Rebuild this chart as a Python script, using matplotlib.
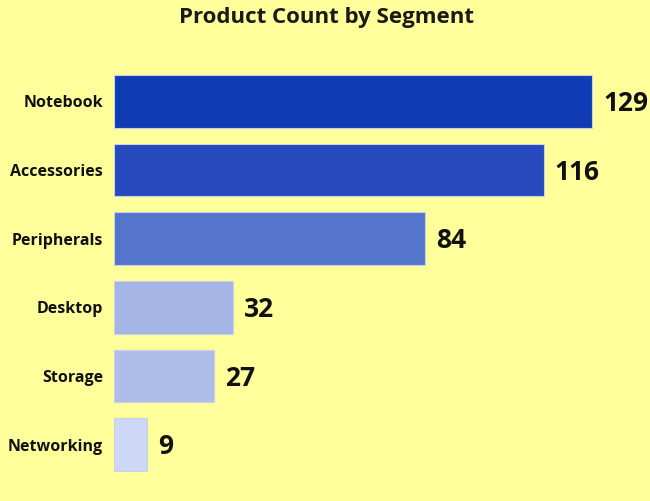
import matplotlib
matplotlib.use("Agg")
import matplotlib.pyplot as plt

plt.rcParams['font.family'] = ['Open Sans', 'DejaVu Sans']

segments = ["Notebook", "Accessories", "Peripherals", "Desktop", "Storage", "Networking"]
counts = [129, 116, 84, 32, 27, 9]
colores = ["#0f3bb5", "#2649bd", "#5574cc", "#a4b5e6", "#afbdea", "#ccd8f5"]

fondo = "#fefe9a"

fig = plt.figure(figsize=(6.5, 5.01), dpi=100, facecolor=fondo)
ax = fig.add_axes([114 / 650, 1 - 479 / 501, 536 / 650, 412 / 501])
ax.set_facecolor(fondo)

y = list(range(len(segments)))
ax.barh(y, counts, height=0.77, color=colores, edgecolor="#c8d0e8", linewidth=0.8)

for yi, c in zip(y, counts):
    ax.text(c + 3, yi + 0.03, str(c), va="center", ha="left", fontsize=19, fontweight="bold", color="#111111")

ax.set_yticks(y)
ax.set_yticklabels(segments, fontsize=11.5, fontweight="bold", color="#111111")
ax.set_ylim(5.5, -0.5)
ax.set_xlim(0, 144.7)
ax.set_xticks([])
ax.tick_params(axis="y", length=0, pad=8)
for s in ax.spines.values():
    s.set_visible(False)

fig.text(0.503, 1 - 17 / 501, "Product Count by Segment", ha="center", va="center",
         fontsize=16, fontweight="bold", color="#1a1a1a")

fig.savefig("out.png", dpi=100, facecolor=fondo)
